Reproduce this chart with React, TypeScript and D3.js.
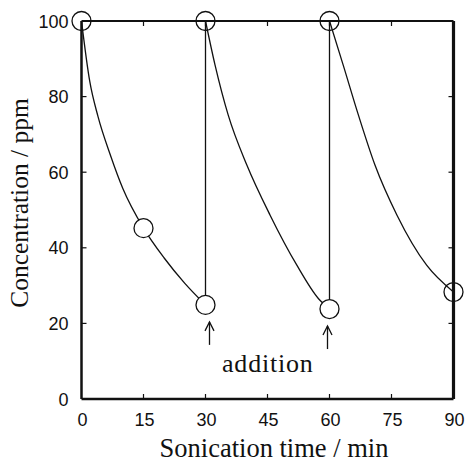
import React from "react";
import * as d3 from "d3";

// measured points (open circles)
const pointTime = [0, 15, 30, 30, 60, 60, 90];
const pointConc = [100, 45.2, 24.9, 100, 23.8, 100, 28.3];

// fitted decay curves
const run1Time = [0, 2, 4, 7, 10, 15, 20, 25, 30];
const run1Conc = [100, 84, 74.7, 64.5, 55.7, 45.2, 37.3, 30.6, 24.9];
const run2Time = [30, 32.3, 35.5, 40, 45.6, 52.1, 57.3, 60];
const run2Conc = [100, 88.4, 75.1, 61.9, 48.7, 35.4, 26.6, 23.8];
const run3Time = [60, 63.3, 67, 71, 76.3, 83.5, 90];
const run3Conc = [100, 88.4, 75.1, 61.9, 48.7, 35.4, 28.3];

// vertical jumps when more substrate is added
const additionTime = [30, 60];

const xTicks = [0, 15, 30, 45, 60, 75, 90];
const yTicks = [0, 20, 40, 60, 80, 100];

const W = 467;
const H = 466;
const margin = { top: 21, right: 13.5, bottom: 67, left: 81.5 };

export default function App() {
  const x = d3.scaleLinear().domain([0, 90]).range([margin.left, W - margin.right]);
  const y = d3.scaleLinear().domain([0, 100]).range([H - margin.bottom, margin.top]);

  const line = d3
    .line<[number, number]>()
    .x((d) => x(d[0]))
    .y((d) => y(d[1]))
    .curve(d3.curveMonotoneX);

  const runs = [
    d3.zip(run1Time, run1Conc),
    d3.zip(run2Time, run2Conc),
    d3.zip(run3Time, run3Conc),
  ] as [number, number][][];

  const x0 = x(0), x1 = x(90), y0 = y(0), y1 = y(100);
  const tick = 5;
  const sans = "'Liberation Sans', Arial, sans-serif";
  const serif = "'Liberation Serif', 'Times New Roman', serif";

  return (
    <div style={{ position: "absolute", left: 0, top: 0 }}>
      <svg width={W} height={H} style={{ display: "block", background: "#fff" }}>
        {/* curves */}
        {runs.map((r, i) => (
          <path key={i} d={line(r) || ""} fill="none" stroke="#111" strokeWidth={1.3} />
        ))}
        {additionTime.map((t, i) => (
          <line
            key={t}
            x1={x(t)}
            x2={x(t)}
            y1={y(pointConc[2 + i * 2])}
            y2={y(100)}
            stroke="#111"
            strokeWidth={1.3}
          />
        ))}

        {/* points */}
        {pointTime.map((t, i) => (
          <circle
            key={i}
            cx={x(t)}
            cy={y(pointConc[i])}
            r={9.5}
            fill={pointConc[i] === 100 || t === 90 ? "none" : "#fff"}
            stroke="#111"
            strokeWidth={1.3}
          />
        ))}

        {/* frame */}
        <line x1={x0} x2={x1} y1={y1} y2={y1} stroke="#111" strokeWidth={2.2} />
        <line x1={x0} x2={x1} y1={y0} y2={y0} stroke="#111" strokeWidth={2.5} />
        <line x1={x0} x2={x0} y1={y1} y2={y0} stroke="#111" strokeWidth={2.5} />
        <line x1={x1} x2={x1} y1={y1} y2={y0} stroke="#111" strokeWidth={3.2} />

        {/* ticks */}
        {xTicks.slice(1, -1).map((t) => (
          <g key={t}>
            <line x1={x(t)} x2={x(t)} y1={y0} y2={y0 - tick} stroke="#111" strokeWidth={1.2} />
            <line x1={x(t)} x2={x(t)} y1={y1} y2={y1 + tick} stroke="#111" strokeWidth={1.2} />
          </g>
        ))}
        {yTicks.slice(1, -1).map((t) => (
          <g key={t}>
            <line x1={x0} x2={x0 + tick} y1={y(t)} y2={y(t)} stroke="#111" strokeWidth={1.2} />
            <line x1={x1} x2={x1 - tick} y1={y(t)} y2={y(t)} stroke="#111" strokeWidth={1.2} />
          </g>
        ))}

        {/* tick labels */}
        {xTicks.map((t) => (
          <text
            key={t}
            x={x(t) + 1}
            y={y0 + 27}
            textAnchor="middle"
            fontFamily={sans}
            fontSize={18}
            fill="#111"
          >
            {t}
          </text>
        ))}
        {yTicks.map((t) => (
          <text
            key={t}
            x={x0 - 13}
            y={y(t) + 6.5}
            textAnchor="end"
            fontFamily={sans}
            fontSize={18}
            fill="#111"
          >
            {t}
          </text>
        ))}

        {/* axis titles */}
        <text
          x={274}
          y={457}
          textAnchor="middle"
          fontFamily={serif}
          fontSize={26.5}
          fill="#111"
        >
          Sonication time / min
        </text>
        <text
          transform={`translate(28,203) rotate(-90)`}
          textAnchor="middle"
          fontFamily={serif}
          fontSize={25.5}
          fill="#111"
        >
          Concentration / ppm
        </text>

        {/* addition arrows */}
        {additionTime.map((t, i) => {
          const ax = x(t) + 4 - i * 6;
          const top = y(pointConc[2 + i * 2]) + 17;
          return (
            <g key={t} stroke="#111" strokeWidth={1.3} fill="none">
              <line x1={ax} x2={ax} y1={top} y2={top + 23} />
              <path d={`M${ax - 4.5},${top + 9} L${ax},${top} L${ax + 4.5},${top + 9}`} />
            </g>
          );
        })}
        <text x={222} y={372} fontFamily={serif} fontSize={26} letterSpacing={0.8} fill="#111">
          addition
        </text>
      </svg>
    </div>
  );
}
